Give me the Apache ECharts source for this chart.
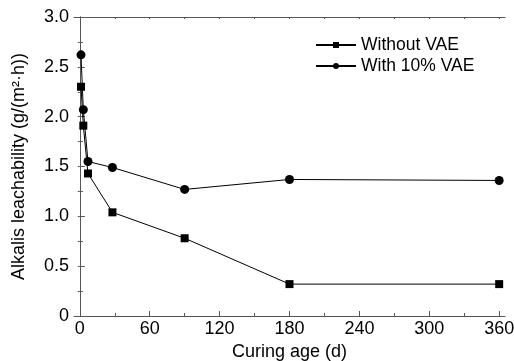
<!DOCTYPE html>
<html>
<head>
<meta charset="utf-8">
<script src="https://cdn.jsdelivr.net/npm/echarts@6/dist/echarts.min.js"></script>
<style>html,body{margin:0;padding:0;background:#fff}#c{width:514px;height:361px}</style>
</head>
<body>
<div id="c"></div>
<script>
const days = [1, 3, 7, 28, 90, 180, 360];
const withoutVAE = [2.30, 1.91, 1.43, 1.04, 0.78, 0.32, 0.32];
const withVAE = [2.62, 2.07, 1.55, 1.49, 1.27, 1.37, 1.36];
const xMajorTicks = [0, 60, 120, 180, 240, 300, 360];
const xMinorTicks = [30, 90, 150, 210, 270, 330];
const seriesNames = ['Without VAE', 'With 10% VAE'];

const font = 'Liberation Sans, Arial, sans-serif';
const axisColor = '#555';
const chart = echarts.init(document.getElementById('c'), null, {renderer: 'canvas'});
const xBase = {type: 'value', min: -5, max: 365, splitLine: {show: false}};
const yBase = {type: 'value', min: 0, max: 3, interval: 0.5, splitLine: {show: false}};
chart.setOption({
  animation: false,
  backgroundColor: '#fff',
  grid: {left: 74, right: 9, top: 17, bottom: 45, containLabel: false, outerBoundsMode: 'none'},
  legend: {
    left: 310, top: 31, orient: 'vertical', itemWidth: 40, itemHeight: 7.5, itemGap: 3,
    textStyle: {fontFamily: font, fontSize: 17.5, color: '#000'},
    data: seriesNames
  },
  xAxis: [
    Object.assign({}, xBase, {
      position: 'bottom',
      axisLine: {show: true, lineStyle: {color: axisColor, width: 1}},
      axisTick: {show: true, inside: true, length: 5, customValues: xMajorTicks, lineStyle: {color: axisColor}},
      axisLabel: {show: true, customValues: xMajorTicks, fontFamily: font, fontSize: 18, color: '#000', margin: 4},
      name: 'Curing age (d)', nameLocation: 'middle', nameGap: 27,
      nameTextStyle: {fontFamily: font, fontSize: 18, color: '#000'}
    }),
    Object.assign({}, xBase, {
      position: 'bottom',
      axisLine: {show: false},
      axisTick: {show: true, inside: true, length: 3, customValues: xMinorTicks, lineStyle: {color: axisColor}},
      axisLabel: {show: false}
    }),
    Object.assign({}, xBase, {
      position: 'top',
      axisLine: {show: true, lineStyle: {color: axisColor, width: 1}},
      axisTick: {show: true, inside: true, length: 2, customValues: xMajorTicks.concat(xMinorTicks), lineStyle: {color: axisColor}},
      axisLabel: {show: false}
    })
  ],
  yAxis: [
    Object.assign({}, yBase, {
      position: 'left',
      axisLine: {show: true, lineStyle: {color: axisColor, width: 1}},
      axisTick: {show: true, inside: true, length: 5, lineStyle: {color: axisColor}},
      minorTick: {show: true, splitNumber: 2, length: 3, lineStyle: {color: axisColor}},
      axisLabel: {fontFamily: font, fontSize: 18, color: '#000', margin: 5,
        formatter: v => v === 0 ? '0' : v.toFixed(1)},
      name: 'Alkalis leachability (g/(m²·h))', nameLocation: 'middle', nameGap: 46,
      nameTextStyle: {fontFamily: font, fontSize: 18, color: '#000'}
    }),
    Object.assign({}, yBase, {
      position: 'right',
      axisLine: {show: true, lineStyle: {color: axisColor, width: 1}},
      axisTick: {show: true, inside: true, length: 2, lineStyle: {color: axisColor}},
      minorTick: {show: true, splitNumber: 2, length: 2, lineStyle: {color: axisColor}},
      axisLabel: {show: false}
    })
  ],
  series: [
    {
      name: seriesNames[0], type: 'line', xAxisIndex: 0, yAxisIndex: 0,
      data: days.map((d, i) => [d, withoutVAE[i]]),
      symbol: 'rect', symbolSize: 8, showAllSymbol: true,
      lineStyle: {color: '#000', width: 1}, itemStyle: {color: '#000'}
    },
    {
      name: seriesNames[1], type: 'line', xAxisIndex: 0, yAxisIndex: 0,
      data: days.map((d, i) => [d, withVAE[i]]),
      symbol: 'circle', symbolSize: 9, showAllSymbol: true,
      lineStyle: {color: '#000', width: 1}, itemStyle: {color: '#000'}
    }
  ]
});
</script>
</body>
</html>
